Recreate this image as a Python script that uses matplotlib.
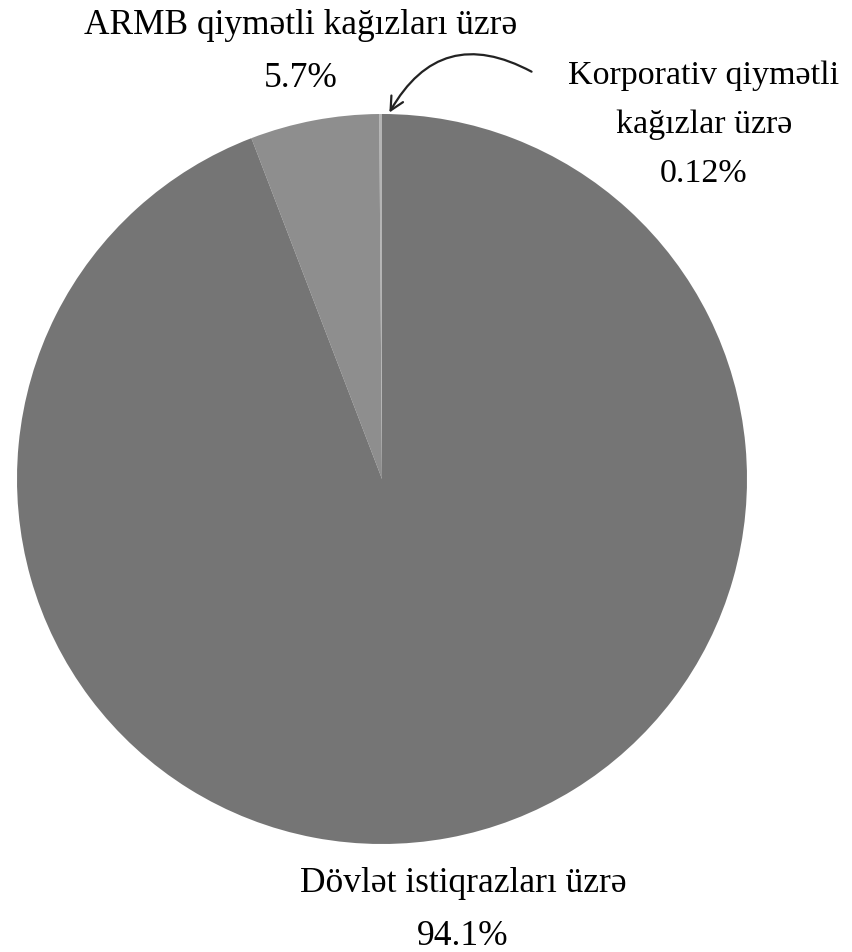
import matplotlib.pyplot as plt

labels = ["Korporativ qiymətli\nkağızlar üzrə", "ARMB qiymətli kağızları üzrə", "Dövlət istiqrazları üzrə"]
values = [0.12, 5.7, 94.1]
pct_text = ["0.12%", "5.7%", "94.1%"]
colors = ["#b4b4b4", "#8e8e8e", "#757575"]

plt.rcParams['font.family'] = ['Liberation Serif', 'DejaVu Serif']

W, H = 852, 953
fig = plt.figure(figsize=(W / 100, H / 100), dpi=100)
ax = fig.add_axes([17 / W, 108 / H, 730 / W, 730 / H])
ax.pie(values, colors=colors, startangle=90, counterclock=True,
       radius=1, wedgeprops=dict(linewidth=0))
ax.set_xlim(-1, 1)
ax.set_ylim(-1, 1)
ax.set_aspect('equal')
ax.axis('off')

def px(x, y):
    return x / W, 1 - y / H

fs = 25.5
# label positions in pixels (centre of text block)
pos = [(704, 125), (301, 52), (463, 910)]
sizes = [24.5, fs, fs]
for lab, p, (x, y), s in zip(labels, pct_text, pos, sizes):
    fig.text(*px(x, y), lab + "\n" + p, ha='center', va='center',
             fontsize=s, linespacing=1.78)

# curved arrow to the thin slice
ax.annotate("", xy=px(388, 116), xycoords='figure fraction',
            xytext=px(534, 74), textcoords='figure fraction',
            arrowprops=dict(arrowstyle='->', color='#222222', lw=1.6,
                            connectionstyle='arc3,rad=0.5',
                            mutation_scale=24))

fig.savefig("out.png", dpi=100)
